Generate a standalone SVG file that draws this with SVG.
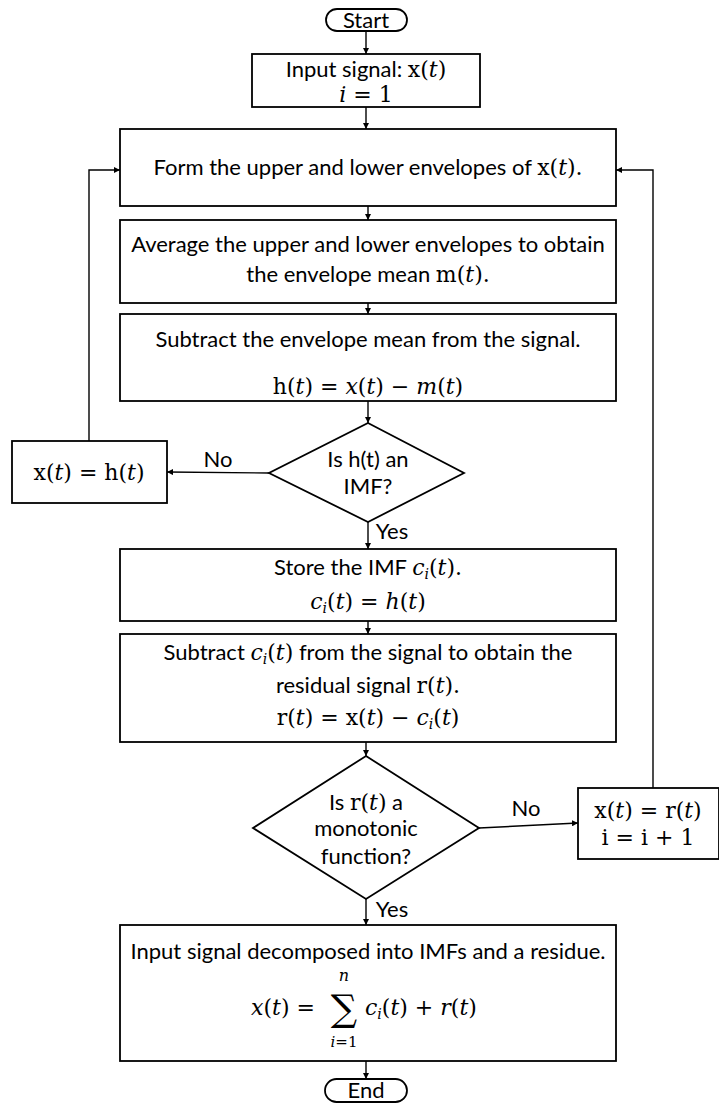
<svg xmlns="http://www.w3.org/2000/svg" width="719" height="1104" viewBox="0 0 719 1104">
  <style>
    .box { fill: #ffffff; stroke: #000000; stroke-width: 1.8; }
    .ln { fill: none; stroke: #000000; stroke-width: 1.4; marker-end: url(#arr); }
    .t { font-family: Lato, "Open Sans", "Liberation Sans", sans-serif; font-size: 22px; fill: #000; text-anchor: middle; }
    .m { font-family: "DejaVu Serif", "Liberation Serif", serif; }
    .i { font-family: "DejaVu Serif", "Liberation Serif", serif; font-style: italic; }
    .sub { font-size: 14px; }
  </style>
  <defs>
    <marker id="arr" viewBox="0 0 10 10" refX="10" refY="5" markerWidth="6" markerHeight="6" markerUnits="userSpaceOnUse" orient="auto">
      <path d="M0,0 L10,5 L0,10 z" fill="#000"/>
    </marker>
  </defs>
  <rect width="719" height="1104" fill="#ffffff"/>

  <!-- connectors -->
  <g id="connectors">
    <path class="ln" d="M366,31 V54"/>
    <path class="ln" d="M366,107 V129"/>
    <path class="ln" d="M368,206 V220"/>
    <path class="ln" d="M368,303 V314"/>
    <path class="ln" d="M368,401 V423"/>
    <path class="ln" d="M269,473 L167,472"/>
    <path class="ln" d="M89,441 V170 H120"/>
    <path class="ln" d="M368,522 V549"/>
    <path class="ln" d="M368,621 V634"/>
    <path class="ln" d="M366,742 V756"/>
    <path class="ln" d="M479,828 L578,823"/>
    <path class="ln" d="M653,788 V170 H616"/>
    <path class="ln" d="M366,899 V925"/>
    <path class="ln" d="M366,1061 V1079"/>
    <text class="t" x="218" y="467">No</text>
    <text class="t" x="392" y="539">Yes</text>
    <text class="t" x="526" y="816">No</text>
    <text class="t" x="392" y="917">Yes</text>
  </g>

  <g id="start">
    <rect class="box" x="326" y="9" width="81" height="22" rx="11"/>
    <text class="t" x="366" y="28">Start</text>
  </g>

  <g id="input">
    <rect class="box" x="252" y="54" width="228" height="53"/>
    <text class="t" x="366" y="77">Input signal: <tspan class="m">x(</tspan><tspan class="i">t</tspan><tspan class="m">)</tspan></text>
    <text class="t" x="366" y="102"><tspan class="i">i</tspan><tspan class="m"> = 1</tspan></text>
  </g>

  <g id="envelopes">
    <rect class="box" x="120" y="129" width="496" height="77"/>
    <text class="t" x="368" y="175">Form the upper and lower envelopes of <tspan class="m">x(</tspan><tspan class="i">t</tspan><tspan class="m">).</tspan></text>
  </g>

  <g id="mean">
    <rect class="box" x="120" y="220" width="496" height="83"/>
    <text class="t" x="368" y="252">Average the upper and lower envelopes to obtain</text>
    <text class="t" x="368" y="282">the envelope mean <tspan class="m">m(</tspan><tspan class="i">t</tspan><tspan class="m">).</tspan></text>
  </g>

  <g id="subtract-mean">
    <rect class="box" x="120" y="314" width="496" height="87"/>
    <text class="t" x="368" y="347">Subtract the envelope mean from the signal.</text>
    <text class="t" x="368" y="394"><tspan class="m">h(</tspan><tspan class="i">t</tspan><tspan class="m">) = </tspan><tspan class="i">x</tspan><tspan class="m">(</tspan><tspan class="i">t</tspan><tspan class="m">) − </tspan><tspan class="i">m</tspan><tspan class="m">(</tspan><tspan class="i">t</tspan><tspan class="m">)</tspan></text>
  </g>

  <g id="is-imf">
    <polygon class="box" points="368,423 464,473 368,522 269,473"/>
    <text class="t" x="368" y="467">Is h(t) an</text>
    <text class="t" x="368" y="494">IMF?</text>
  </g>

  <g id="x-eq-h">
    <rect class="box" x="12" y="441" width="155" height="62"/>
    <text class="t" x="89" y="480"><tspan class="m">x(</tspan><tspan class="i">t</tspan><tspan class="m">) = h(</tspan><tspan class="i">t</tspan><tspan class="m">)</tspan></text>
  </g>

  <g id="store-imf">
    <rect class="box" x="120" y="549" width="496" height="72"/>
    <text class="t" x="368" y="575">Store the IMF <tspan class="i">c</tspan><tspan class="i sub" dy="4">i</tspan><tspan class="m" dy="-4">(</tspan><tspan class="i">t</tspan><tspan class="m">).</tspan></text>
    <text class="t" x="368" y="609"><tspan class="i">c</tspan><tspan class="i sub" dy="4">i</tspan><tspan class="m" dy="-4">(</tspan><tspan class="i">t</tspan><tspan class="m">) = </tspan><tspan class="i">h</tspan><tspan class="m">(</tspan><tspan class="i">t</tspan><tspan class="m">)</tspan></text>
  </g>

  <g id="residual">
    <rect class="box" x="120" y="634" width="496" height="108"/>
    <text class="t" x="368" y="660">Subtract <tspan class="i">c</tspan><tspan class="i sub" dy="4">i</tspan><tspan class="m" dy="-4">(</tspan><tspan class="i">t</tspan><tspan class="m">)</tspan> from the signal to obtain the</text>
    <text class="t" x="368" y="693">residual signal <tspan class="m">r(</tspan><tspan class="i">t</tspan><tspan class="m">).</tspan></text>
    <text class="t" x="368" y="725"><tspan class="m">r(</tspan><tspan class="i">t</tspan><tspan class="m">) = x(</tspan><tspan class="i">t</tspan><tspan class="m">)  − </tspan><tspan class="i">c</tspan><tspan class="i sub" dy="4">i</tspan><tspan class="m" dy="-4">(</tspan><tspan class="i">t</tspan><tspan class="m">)</tspan></text>
  </g>

  <g id="is-monotonic">
    <polygon class="box" points="366,756 479,828 366,899 253,828"/>
    <text class="t" x="366" y="810">Is <tspan class="m">r(</tspan><tspan class="i">t</tspan><tspan class="m">)</tspan> a</text>
    <text class="t" x="366" y="836">monotonic</text>
    <text class="t" x="366" y="864">function?</text>
  </g>

  <g id="x-eq-r">
    <rect class="box" x="578" y="788" width="141" height="71"/>
    <text class="t" x="648" y="818"><tspan class="m">x(</tspan><tspan class="i">t</tspan><tspan class="m">) = r(</tspan><tspan class="i">t</tspan><tspan class="m">)</tspan></text>
    <text class="t m" x="648" y="845">i = i + 1</text>
  </g>

  <g id="result">
    <rect class="box" x="120" y="925" width="496" height="136"/>
    <text class="t" x="368" y="959">Input signal decomposed into IMFs and a residue.</text>
    <text class="t" x="283" y="1015"><tspan class="i">x</tspan><tspan class="m">(</tspan><tspan class="i">t</tspan><tspan class="m">) =</tspan></text>
    <!-- summation with its limits -->
    <text class="t m" x="344" y="1021" style="font-size:37px">∑</text>
    <text class="t i" x="344" y="981" style="font-size:16px">n</text>
    <text class="t" x="344" y="1047" style="font-size:15px"><tspan class="i">i</tspan><tspan class="m">=1</tspan></text>
    <text class="t" x="365" y="1015" style="text-anchor:start"><tspan class="i">c</tspan><tspan class="i sub" dy="4">i</tspan><tspan class="m" dy="-4">(</tspan><tspan class="i">t</tspan><tspan class="m">) + </tspan><tspan class="i">r</tspan><tspan class="m">(</tspan><tspan class="i">t</tspan><tspan class="m">)</tspan></text>
  </g>

  <g id="end">
    <rect class="box" x="325" y="1079" width="82" height="23" rx="11.5"/>
    <text class="t" x="366" y="1098">End</text>
  </g>
</svg>
